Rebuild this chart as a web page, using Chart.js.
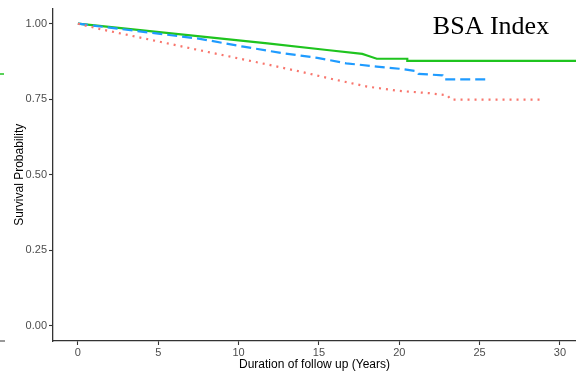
<!DOCTYPE html>
<html>
<head>
<meta charset="utf-8">
<script src="https://cdn.jsdelivr.net/npm/chart.js@4/dist/chart.umd.min.js"></script>
<style>
  html, body { margin: 0; padding: 0; background: #fff; }
  #wrap { width: 576px; height: 380px; }
</style>
</head>
<body>
<div id="wrap"><canvas id="myChart" width="576" height="380"></canvas></div>
<script>
// years, survival probability
const greenX = [0, 7.6, 11.8, 15.5, 17.7, 18.0, 18.6, 20.5, 20.5, 31.5];
const greenY = [1.0, 0.958, 0.935, 0.913, 0.900, 0.895, 0.884, 0.884, 0.877, 0.877];

const blueX = [0, 7.6, 10.3, 12.8, 14.9, 16.7, 18.6, 20.0, 21.1, 21.2, 22.7, 22.8, 25.5];
const blueY = [1.0, 0.950, 0.924, 0.902, 0.887, 0.869, 0.858, 0.851, 0.843, 0.834, 0.829, 0.816, 0.816];

const redX = [0, 1.4, 7.6, 11.8, 13.8, 15.9, 18.0, 19.9, 21.9, 23.0, 23.2, 28.9];
const redY = [1.0, 0.982, 0.912, 0.865, 0.842, 0.816, 0.792, 0.778, 0.770, 0.763, 0.749, 0.749];

const xTicks = [0, 5, 10, 15, 20, 25, 30];
const yTicks = [0, 0.25, 0.5, 0.75, 1.0];

function pts(xs, ys) {
  return xs.map((x, i) => ({ x: x, y: ys[i] }));
}

const titlePlugin = {
  id: 'bsaTitle',
  beforeDraw(chart) {
    const c = chart.ctx;
    c.save();
    // bits of neighbouring panels left in the crop
    c.strokeStyle = '#22c322';
    c.lineWidth = 1.5;
    c.beginPath(); c.moveTo(0, 74); c.lineTo(4, 74); c.stroke();
    c.strokeStyle = '#555';
    c.lineWidth = 1.2;
    c.beginPath(); c.moveTo(0, 341); c.lineTo(5, 341); c.stroke();
    c.restore();
  },
  afterDraw(chart) {
    const c = chart.ctx;
    c.save();
    c.font = '26px "Liberation Serif"';
    c.fillStyle = '#000';
    c.textAlign = 'center';
    c.textBaseline = 'alphabetic';
    c.fillText('BSA Index', 491, 34);
    c.restore();
  }
};

const ctx = document.getElementById('myChart');

const data = {
  datasets: [
    {
      label: 'low',
      data: pts(redX, redY),
      borderColor: '#F8766D',
      borderWidth: 2.2,
      borderDash: [2, 5],
      pointRadius: 0,
      tension: 0
    },
    {
      label: 'mid',
      data: pts(blueX, blueY),
      borderColor: '#1f9bff',
      borderWidth: 2.2,
      borderDash: [10, 5],
      pointRadius: 0,
      tension: 0
    },
    {
      label: 'high',
      data: pts(greenX, greenY),
      borderColor: '#1fc41f',
      borderWidth: 2.2,
      pointRadius: 0,
      tension: 0
    }
  ]
};

const config = {
  type: 'line',
  data,
  options: {
    responsive: false,
    animation: false,
    layout: { padding: { top: 7, right: 0, left: 0, bottom: 0 } },
    plugins: { legend: { display: false }, tooltip: { enabled: false } },
    scales: {
      x: {
        type: 'linear',
        min: -1.55,
        max: 31,
        afterBuildTicks: s => { s.ticks = xTicks.map(v => ({ value: v })); },
        afterFit: s => { s.height = 39; },
        grid: { display: true, drawOnChartArea: false, drawTicks: true, tickLength: 4, color: '#333', tickWidth: 1.1 },
        border: { display: true, color: '#333', width: 1.3 },
        ticks: {
          color: '#4d4d4d',
          font: { family: 'Liberation Sans', size: 11 },
          padding: 1,
          maxRotation: 0,
          callback: v => String(v)
        },
        title: {
          display: true,
          text: 'Duration of follow up (Years)',
          color: '#000',
          font: { family: 'Liberation Sans', size: 12 },
          padding: { top: 0, bottom: 8 }
        }
      },
      y: {
        min: -0.05,
        max: 1.05,
        afterBuildTicks: s => { s.ticks = yTicks.map(v => ({ value: v })); },
        afterFit: s => { s.width = 53; },
        grid: { display: true, drawOnChartArea: false, drawTicks: true, tickLength: 4, color: '#333', tickWidth: 1.1 },
        border: { display: true, color: '#333', width: 1.3 },
        ticks: {
          color: '#4d4d4d',
          font: { family: 'Liberation Sans', size: 11 },
          padding: 2,
          callback: v => v.toFixed(2)
        },
        title: {
          display: true,
          text: 'Survival Probability',
          color: '#000',
          font: { family: 'Liberation Sans', size: 12 },
          padding: { top: 12, bottom: 0 }
        }
      }
    }
  },
  plugins: [titlePlugin]
};

const myChart = new Chart(ctx, config);
</script>
</body>
</html>
